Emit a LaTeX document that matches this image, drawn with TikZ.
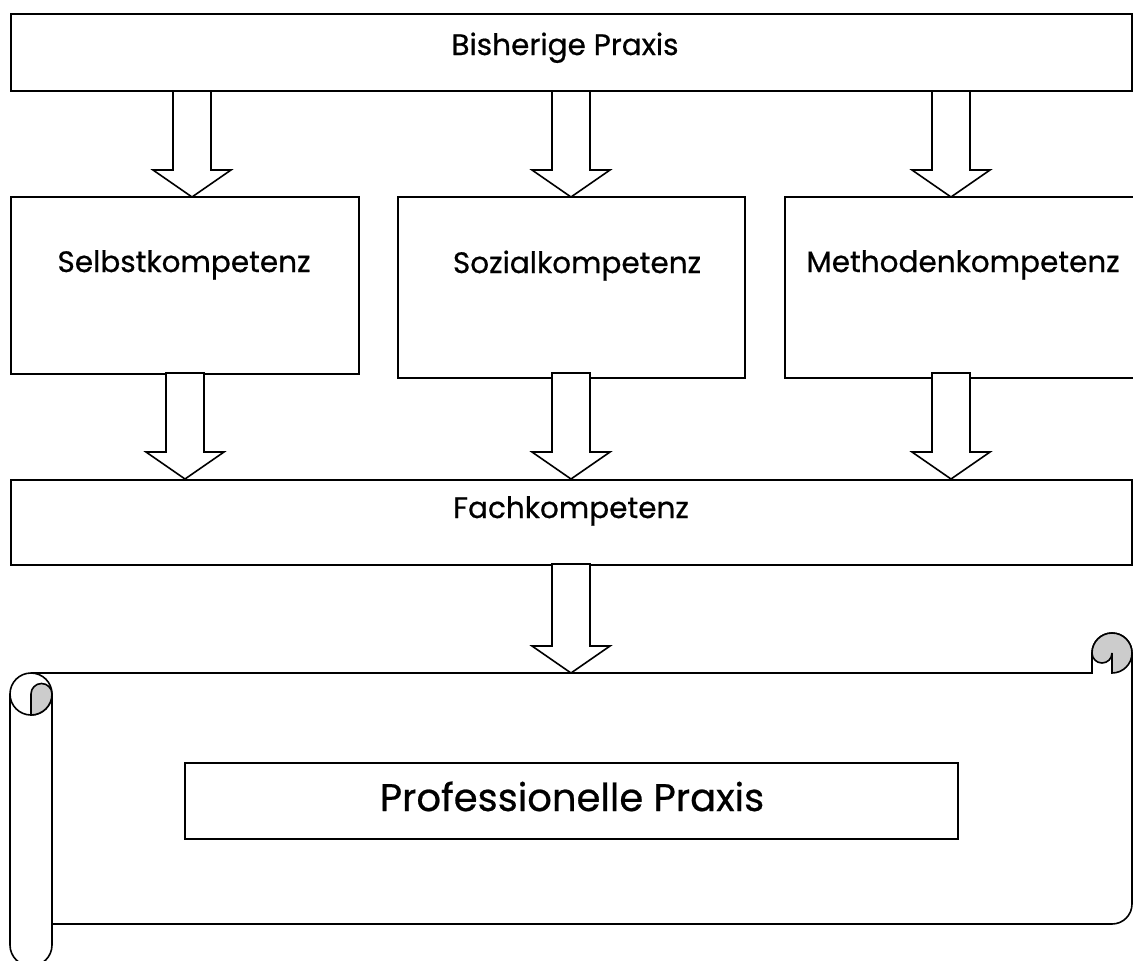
\documentclass[tikz,border=0pt]{standalone}
\usepackage{fontspec}
\setmainfont{Poppins}[FakeBold=0.6]
\newcommand\blockarrow[3]{%
  \draw[barrow] (#1-19,#2) -- (#1-19,#3-27) -- (#1-39,#3-27) -- (#1,#3)
    -- (#1+39,#3-27) -- (#1+19,#3-27) -- (#1+19,#2) -- cycle;}
\begin{document}
\begin{tikzpicture}[x=1pt,y=-1pt, line width=1.6pt,
  box/.style={draw, fill=white, rectangle, inner sep=0pt},
  lbl/.style={font=\fontsize{29.5}{34}\selectfont, inner sep=0pt, anchor=base},
  biglbl/.style={font=\fontsize{38.5}{46}\selectfont, inner sep=0pt, anchor=base},
  barrow/.style={draw, fill=white, line join=miter},
  curl/.style={fill=black!20}]
\useasboundingbox (0,0) rectangle (1133,961);

% boxes
\node[box, minimum width=1121pt, minimum height=77pt] (top) at (571.5,52.5) {};
\node[box, minimum width=348pt, minimum height=177pt] (sel) at (185,285.5) {};
\node[box, minimum width=347pt, minimum height=181pt] (soz) at (571.5,287.5) {};
\node[box, minimum width=370pt, minimum height=181pt] (met) at (970,287.5) {};
\node[box, minimum width=1121pt, minimum height=85pt] (fach) at (571.5,522.5) {};

% scroll
\draw (31,673) -- (1092,673) -- (1092,653)
  arc[start angle=180, end angle=360, radius=20] -- (1132,904)
  arc[start angle=0, end angle=90, radius=20] -- (52,924);
\draw[curl] (1092,653) arc[start angle=180, end angle=450, radius=20]
  -- (1112,653) arc[start angle=0, end angle=180, radius=10] -- cycle;
\draw (10,694) -- (10,945) arc[start angle=180, end angle=0, radius=21] -- (52,694);
\draw (31,694) circle[radius=21];
\draw[curl] (31,694) arc[start angle=180, end angle=360, radius=10.5]
  arc[start angle=0, end angle=90, radius=21] -- cycle;

\node[box, minimum width=773pt, minimum height=76pt] (prof) at (571.5,801) {};

% arrows
\blockarrow{192}{91}{197}
\blockarrow{571}{91}{197}
\blockarrow{951}{91}{197}
\blockarrow{185}{373}{479}
\blockarrow{571}{373}{479}
\blockarrow{951}{373}{479}
\blockarrow{571}{564}{673}

% labels
\node[lbl] (tbis) at (565,55) {Bisherige Praxis};
\node[lbl] (tsel) at (184,272) {Selbstkompetenz};
\node[lbl] (tsoz) at (577,273) {Sozialkompetenz};
\node[lbl] (tmet) at (963,272) {Methodenkompetenz};
\node[lbl] (tfach) at (571,518) {Fachkompetenz};
\node[biglbl] (tprof) at (572,811) {Professionelle Praxis};
\end{tikzpicture}
\end{document}
